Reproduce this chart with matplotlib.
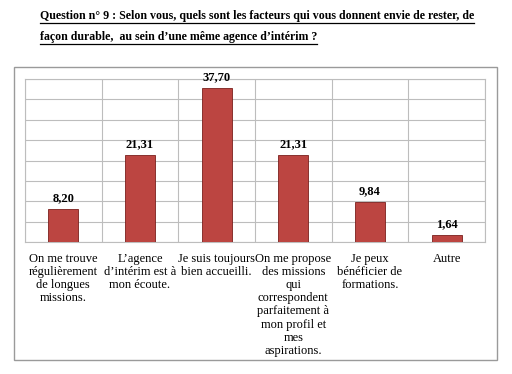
import matplotlib
matplotlib.use("Agg")
import matplotlib.pyplot as plt
from matplotlib.patches import Rectangle
from matplotlib.lines import Line2D

categories = [
    "On me trouve\nrégulièrement\nde longues\nmissions.",
    "L’agence\nd’intérim est à\nmon écoute.",
    "Je suis toujours\nbien accueilli.",
    "On me propose\ndes missions\nqui\ncorrespondent\nparfaitement à\nmon profil et\nmes\naspirations.",
    "Je peux\nbénéficier de\nformations.",
    "Autre",
]
values = [8.20, 21.31, 37.70, 21.31, 9.84, 1.64]
title_lines = [
    "Question n° 9 : Selon vous, quels sont les facteurs qui vous donnent envie de rester, de",
    "façon durable,  au sein d’une même agence d’intérim ?",
]

W, H = 512, 374
fig = plt.figure(figsize=(W / 100, H / 100), dpi=100)
fig.patch.set_facecolor("white")
serif = "Liberation Serif"

# outer frame
fig.add_artist(Rectangle((14 / W, 1 - 360 / H), (497 - 14) / W, (360 - 67) / H,
                         transform=fig.transFigure, fill=False,
                         edgecolor="#9a9a9a", linewidth=1.0))

ax = fig.add_axes([25 / W, 1 - 242 / H, (485 - 25) / W, (242 - 79) / H])
x = list(range(len(values)))
ax.bar(x, values, width=0.39, color="#BC4541", edgecolor="#7a1f1c", linewidth=0.6, zorder=3)
ax.set_xlim(-0.5, len(values) - 0.5)
ax.set_ylim(0, 40)
ax.set_yticks(range(0, 41, 5))
ax.set_yticklabels([])
ax.tick_params(axis="y", length=0)
ax.grid(axis="y", color="#bdbdbd", linewidth=0.8, zorder=0)
for b in range(len(values) + 1):
    ax.axvline(b - 0.5, color="#bdbdbd", linewidth=0.8, zorder=0)
for s in ax.spines.values():
    s.set_color("#bdbdbd")
    s.set_linewidth(0.8)
ax.set_xticks(x)
ax.set_xticklabels(categories, fontfamily=serif, fontsize=9, linespacing=1.12,
                   multialignment="center")
ax.tick_params(axis="x", length=0, pad=8)

for xi, v in zip(x, values):
    ax.annotate(f"{v:.2f}".replace(".", ","), (xi, v), xytext=(0, 3.5),
                textcoords="offset points", ha="center", va="bottom",
                fontfamily=serif, fontweight="bold", fontsize=9)

tys = [19, 40]
texts = []
for t, yp in zip(title_lines, tys):
    texts.append(fig.text(40 / W, 1 - yp / H, t, fontfamily=serif, fontweight="bold",
                          fontsize=8.6, ha="left", va="baseline"))

fig.canvas.draw()
r = fig.canvas.get_renderer()
for t in texts:
    bb = t.get_window_extent(r)
    y = bb.y0 + 0.5
    fig.add_artist(Line2D([bb.x0 / W, bb.x1 / W], [(y - 1.5) / H, (y - 1.5) / H],
                          transform=fig.transFigure, color="black", linewidth=0.9))

fig.savefig("out.png", dpi=100)
